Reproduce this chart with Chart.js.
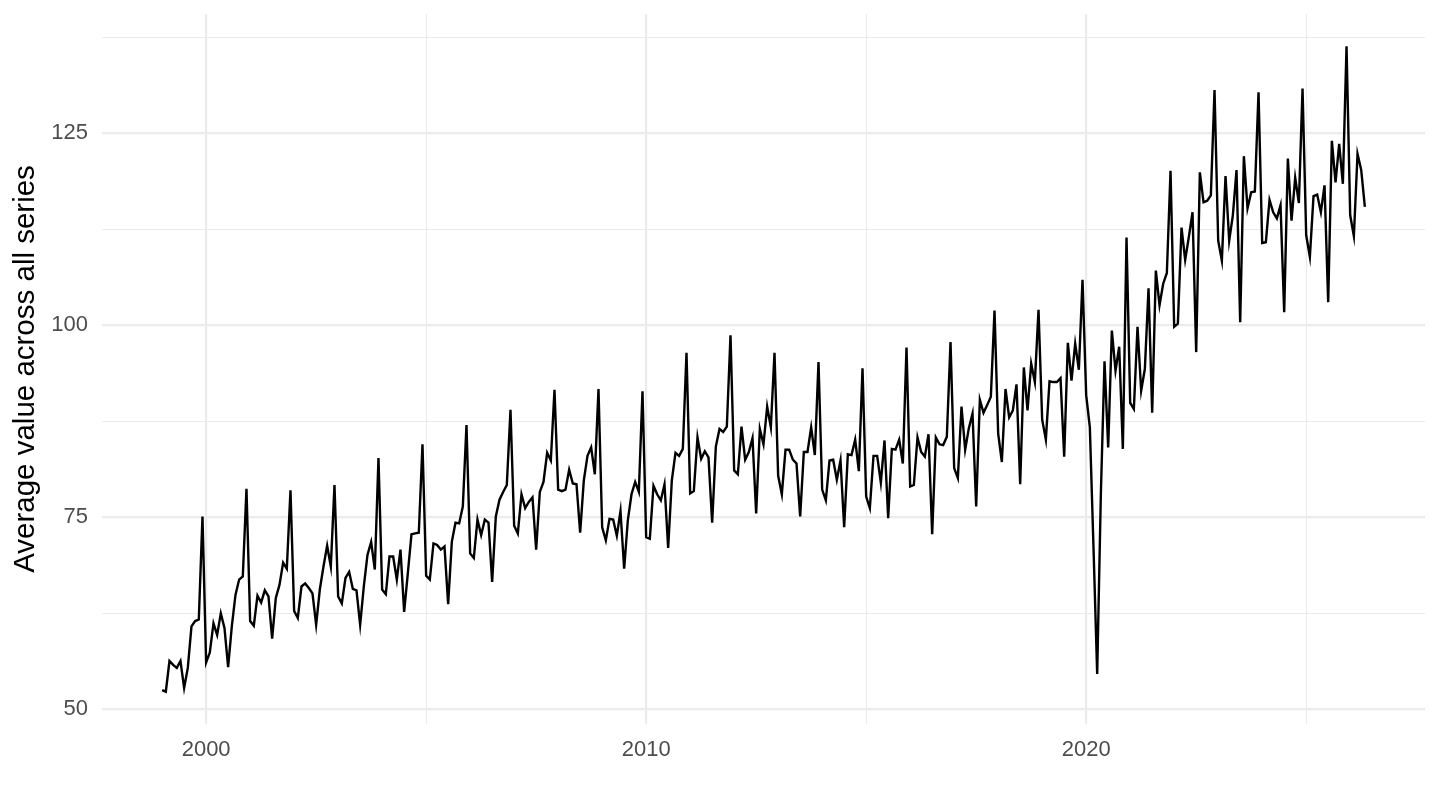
<!DOCTYPE html>
<html>
<head>
<meta charset="utf-8">
<script src="https://cdn.jsdelivr.net/npm/chart.js@4/dist/chart.umd.min.js"></script>
<style>
  html, body { margin: 0; padding: 0; background: #ffffff; }
  #wrap { width: 1440px; height: 810px; position: relative; }
</style>
</head>
<body>
<div id="wrap"><canvas id="c" width="1440" height="810"></canvas></div>
<script>
// ---- DATA ----
const startYear = 1999;           // first observation: January 1999
const monthlyAverage = [
  // 1999
  52.5, 52.3, 56.3, 55.8, 55.4, 56.3, 52.8, 55.4, 60.8, 61.5, 61.7, 75.1,
  // 2000
  56.1, 57.4, 61.2, 59.7, 62.5, 60.6, 55.5, 60.8, 64.9, 66.9, 67.3, 78.7,
  // 2001
  61.5, 60.9, 64.8, 63.9, 65.5, 64.7, 59.2, 64.5, 66.2, 69.1, 68.3, 78.5,
  // 2002
  62.8, 61.9, 66.0, 66.4, 65.8, 65.1, 61.0, 65.6, 68.6, 71.3, 68.6, 79.2,
  // 2003
  64.7, 63.8, 67.1, 67.9, 65.7, 65.5, 61.0, 66.0, 70.1, 71.8, 68.2, 82.7,
  // 2004
  65.6, 65.0, 69.9, 69.9, 66.9, 70.8, 62.7, 67.7, 72.8, 72.9, 73.0, 84.5,
  // 2005
  67.4, 66.9, 71.6, 71.4, 70.8, 71.2, 63.7, 71.8, 74.3, 74.2, 76.4, 87.0,
  // 2006
  70.3, 69.7, 74.7, 72.7, 74.7, 74.3, 66.6, 75.1, 77.3, 78.3, 79.2, 89.0,
  // 2007
  73.9, 72.9, 78.0, 76.2, 77.0, 77.6, 70.8, 78.3, 79.6, 83.4, 82.4, 91.6,
  // 2008
  78.6, 78.4, 78.6, 81.2, 79.4, 79.3, 73.0, 79.8, 83.0, 84.1, 80.6, 91.7,
  // 2009
  73.7, 72.0, 74.8, 74.7, 72.6, 75.8, 68.3, 74.6, 78.0, 79.6, 78.3, 91.4,
  // 2010
  72.4, 72.2, 79.1, 78.0, 77.2, 79.3, 71.0, 79.8, 83.4, 83.0, 83.9, 96.4,
  // 2011
  78.1, 78.4, 85.4, 82.6, 83.6, 82.8, 74.3, 84.2, 86.5, 86.1, 86.8, 98.7,
  // 2012
  81.1, 80.6, 86.8, 82.5, 83.5, 85.3, 75.5, 86.5, 84.5, 89.4, 86.7, 96.4,
  // 2013
  80.4, 78.0, 83.8, 83.8, 82.5, 82.0, 75.1, 83.5, 83.5, 86.7, 83.1, 95.2,
  // 2014
  78.6, 77.2, 82.4, 82.5, 79.9, 82.4, 73.7, 83.2, 83.1, 85.1, 81.0, 94.4,
  // 2015
  77.7, 76.2, 83.0, 83.0, 79.5, 85.0, 74.9, 83.9, 83.8, 85.1, 82.0, 97.1,
  // 2016
  79.0, 79.2, 85.4, 83.5, 82.9, 85.8, 72.8, 85.4, 84.5, 84.4, 85.5, 97.8,
  // 2017
  81.4, 80.1, 89.4, 83.8, 86.6, 88.5, 76.4, 90.3, 88.6, 89.6, 90.7, 101.9,
  // 2018
  85.9, 82.2, 91.7, 88.0, 88.9, 92.3, 79.3, 94.5, 88.9, 95.0, 92.6, 102.0,
  // 2019
  87.7, 85.1, 92.7, 92.6, 92.6, 93.1, 82.9, 97.7, 92.8, 97.6, 94.2, 105.9,
  // 2020
  90.9, 86.7, 71.0, 54.6, 78.0, 95.3, 84.1, 99.3, 94.1, 97.2, 83.9, 111.4,
  // 2021
  89.9, 89.1, 99.8, 91.5, 94.3, 104.8, 88.6, 107.1, 102.6, 105.4, 106.8, 120.1,
  // 2022
  99.8, 100.2, 112.7, 108.5, 111.5, 114.7, 96.5, 119.9, 116.0, 116.2, 116.9, 130.6,
  // 2023
  111.0, 108.4, 119.4, 111.0, 114.3, 120.2, 100.4, 122.0, 115.2, 117.3, 117.4, 130.3,
  // 2024
  110.7, 110.8, 116.3, 114.7, 113.9, 115.6, 101.7, 121.7, 113.6, 119.2, 115.9, 130.8,
  // 2025
  111.7, 108.9, 116.8, 117.0, 114.7, 118.2, 103.0, 124.0, 118.6, 123.6, 118.4, 136.3,
  // 2026
  114.3, 111.6, 122.3, 120.2, 115.4
];
const xMajorTicks = [2000, 2010, 2020];
const xMinorTicks = [2005, 2015, 2025];
const yMajorTicks = [50, 75, 100, 125];
const yMinorTicks = [62.5, 87.5, 112.5, 137.5];
const yAxisTitle = "Average value across all series";

// time positions (decimal years, one per month)
const monthPositions = monthlyAverage.map((_, i) => startYear + i / 12);
const points = monthlyAverage.map((v, i) => ({ x: monthPositions[i], y: v }));

// ggplot-like 5% expansion of the data range
const xMinData = monthPositions[0], xMaxData = monthPositions[monthPositions.length - 1];
const yMinData = Math.min(...monthlyAverage), yMaxData = Math.max(...monthlyAverage);
const xPad = (xMaxData - xMinData) * 0.05, yPad = (yMaxData - yMinData) * 0.05;

const FONT = "'Liberation Sans', Arial, Helvetica, sans-serif";
const xGrid = [...xMajorTicks, ...xMinorTicks].sort((a, b) => a - b);
const yGrid = [...yMajorTicks, ...yMinorTicks].sort((a, b) => a - b);

new Chart(document.getElementById('c'), {
  type: 'line',
  data: {
    datasets: [{
      data: points,
      borderColor: '#000000',
      borderWidth: 2.4,
      pointRadius: 0,
      tension: 0,
      fill: false
    }]
  },
  options: {
    responsive: false,
    animation: false,
    devicePixelRatio: 1,
    layout: { padding: { left: 0, right: 15, top: 0, bottom: 0 } },
    plugins: { legend: { display: false }, tooltip: { enabled: false } },
    scales: {
      x: {
        type: 'linear',
        min: xMinData - xPad,
        max: xMaxData + xPad,
        afterBuildTicks: s => { s.ticks = xGrid.map(v => ({ value: v })); },
        afterFit: s => { s.height = 86; },
        border: { display: false },
        grid: {
          drawTicks: false,
          color: '#EBEBEB',
          lineWidth: c => (xMajorTicks.includes(c.tick && c.tick.value) ? 2.2 : 1.1)
        },
        ticks: {
          autoSkip: false,
          maxRotation: 0,
          padding: 13,
          color: '#4D4D4D',
          font: { family: FONT, size: 22 },
          callback: v => (xMajorTicks.includes(v) ? String(v) : '')
        }
      },
      y: {
        type: 'linear',
        min: yMinData - yPad,
        max: yMaxData + yPad,
        afterBuildTicks: s => { s.ticks = yGrid.map(v => ({ value: v })); },
        afterFit: s => { s.width = 102; s.paddingTop = 14; },
        border: { display: false },
        grid: {
          drawTicks: false,
          color: '#EBEBEB',
          lineWidth: c => (yMajorTicks.includes(c.tick && c.tick.value) ? 2.2 : 1.1)
        },
        ticks: {
          autoSkip: false,
          padding: 14,
          color: '#4D4D4D',
          font: { family: FONT, size: 22 },
          callback: v => (yMajorTicks.includes(v) ? String(v) : '')
        },
        title: {
          display: true,
          text: yAxisTitle,
          color: '#000000',
          font: { family: FONT, size: 29.5 },
          padding: { top: 8.5, bottom: 0 }
        }
      }
    }
  }
});
</script>
</body>
</html>
